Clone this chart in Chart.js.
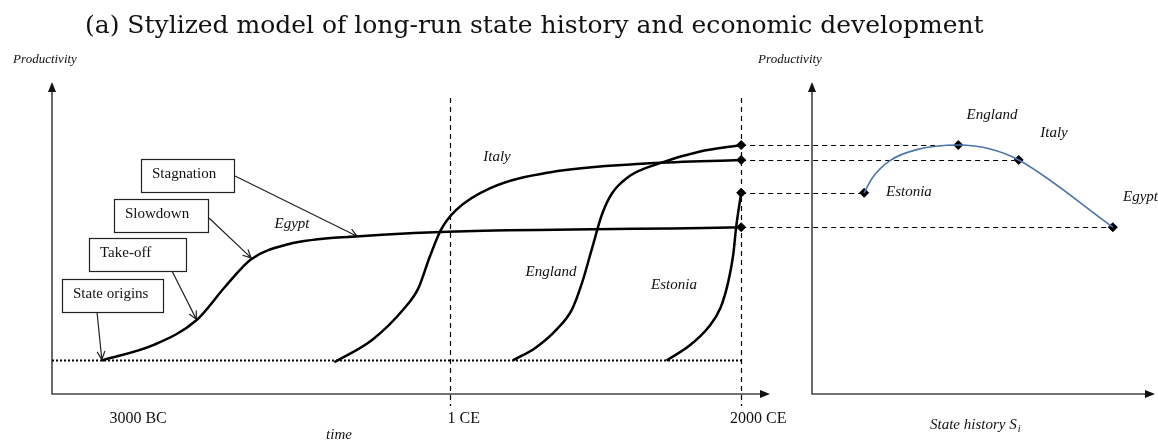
<!DOCTYPE html>
<html>
<head>
<meta charset="utf-8">
<script src="https://cdn.jsdelivr.net/npm/chart.js@4.4.0/dist/chart.umd.min.js"></script>
<style>
  html, body { margin: 0; padding: 0; background: #fff; }
  #wrap { width: 1158px; height: 440px; position: relative; }
</style>
</head>
<body>
<div id="wrap"><canvas id="stateChart"></canvas></div>
<script>
// Left panel: time (arbitrary units 0-100) vs productivity (0-100)
const egyptT = [6.3, 13.6, 19.6, 23.7, 27.3, 32.5, 41.5, 96.2];
const egyptP = [9.6, 14.7, 22.8, 34.0, 42.9, 47.8, 50.3, 53.4];

const italyT = [39.0, 44.3, 48.9, 50.8, 52.4, 54.0, 56.1, 61.0, 69.4, 83.3, 96.2];
const italyP = [9.0, 16.3, 26.9, 33.3, 43.6, 52.6, 59.0, 66.3, 71.5, 74.4, 75.5];

const englandT = [64.1, 67.3, 70.3, 72.4, 73.8, 75.2, 76.6, 78.0, 80.5, 84.7, 90.3, 96.2];
const englandP = [9.6, 13.8, 19.9, 26.3, 34.9, 46.2, 57.4, 64.4, 70.2, 74.4, 78.2, 80.4];

const estoniaT = [85.7, 88.9, 91.6, 93.3, 94.4, 95.1, 95.5, 96.2];
const estoniaP = [9.6, 14.4, 20.5, 26.9, 35.6, 44.6, 53.5, 64.7];

// Productivity reached by 2000 CE (dots on both panels)
const countries = ['England', 'Italy', 'Estonia', 'Egypt'];
const endP = [80.4, 75.5, 64.7, 53.4];

// Right panel: state history (0-100) vs productivity, same country order
const stateHistory = [43.7, 61.5, 16.0, 89.2];
const curveS = [16.0, 18.4, 23.6, 31.5, 43.7, 52.8, 61.5, 89.2];
const curveP = [64.7, 69.6, 75.3, 78.9, 80.4, 79.2, 75.5, 53.4];

// Time axis labels and era lines
const tickLabels = ['3000 BC', '1 CE', '2000 CE'];
const tickT = [11.4, 57.2, 98.6];
const eraT = [55.2, 96.2];
const baseP = 9.6;

// Stages of the Egypt curve and where their arrows point
const stages = ['State origins', 'Take-off', 'Slowdown', 'Stagnation'];
const stageT = [6.3, 19.6, 27.3, 42.2];
const stageP = [9.9, 23.1, 43.3, 50.4];

// ---- layout (pixels) ----
const W = 1158, H = 440;
const frame = { lx0: 52, lx1: 770, rx0: 812, rx1: 1155, y0: 394, y1: 82 };
const boxes = [
    { x: 62, y: 279, w: 101, h: 33, ax: 97, ay: 312 },
    { x: 89, y: 238, w: 97, h: 33, ax: 172, ay: 271 },
    { x: 114, y: 199, w: 94, h: 33, ax: 209, ay: 218 },
    { x: 141, y: 159, w: 93, h: 33, ax: 235, ay: 176 }
];
const leftNames = [
    { t: 'Italy', x: 497, y: 157 },
    { t: 'Egypt', x: 292, y: 224 },
    { t: 'England', x: 551, y: 272 },
    { t: 'Estonia', x: 674, y: 285 }
];
const rightNames = [
    { t: 'England', x: 992, y: 115, a: 'center' },
    { t: 'Italy', x: 1054, y: 133, a: 'center' },
    { t: 'Estonia', x: 886, y: 192, a: 'left' },
    { t: 'Egypt', x: 1123, y: 197, a: 'left' }
];

function span(p0, p1, size) {
    const k = (p1 - p0) / 100;
    return { min: -p0 / k, max: (size - p0) / k };
}
const xSpan = span(frame.lx0, frame.lx1, W);
const sSpan = span(frame.rx0, frame.rx1, W);
const ky = (frame.y0 - frame.y1) / 100;
const ySpan = { min: -(H - frame.y0) / ky, max: frame.y0 / ky };

const pts = (xs, ys) => xs.map((v, i) => ({ x: v, y: ys[i] }));

function arrowFill(ctx, x, y, dir) {
    ctx.beginPath();
    if (dir === 'up') {
        ctx.moveTo(x, y); ctx.lineTo(x - 4, y + 10); ctx.lineTo(x + 4, y + 10);
    } else {
        ctx.moveTo(x, y); ctx.lineTo(x - 10, y - 4); ctx.lineTo(x - 10, y + 4);
    }
    ctx.closePath();
    ctx.fill();
}

function arrowOpen(ctx, x0, y0, x1, y1) {
    const a = Math.atan2(y1 - y0, x1 - x0);
    ctx.beginPath();
    ctx.moveTo(x0, y0); ctx.lineTo(x1, y1);
    ctx.moveTo(x1 - 9 * Math.cos(a - 0.45), y1 - 9 * Math.sin(a - 0.45));
    ctx.lineTo(x1, y1);
    ctx.lineTo(x1 - 9 * Math.cos(a + 0.45), y1 - 9 * Math.sin(a + 0.45));
    ctx.stroke();
}

const diagram = {
    id: 'diagram',
    beforeDatasetsDraw(chart) {
        const { ctx, scales } = chart;
        const x = scales.x, s = scales.s, y = scales.y;
        ctx.save();

        // axes
        ctx.strokeStyle = '#444';
        ctx.fillStyle = '#111';
        ctx.lineWidth = 1.6;
        ctx.beginPath();
        ctx.moveTo(frame.lx0, frame.y1 + 6); ctx.lineTo(frame.lx0, frame.y0); ctx.lineTo(frame.lx1 - 6, frame.y0);
        ctx.moveTo(frame.rx0, frame.y1 + 6); ctx.lineTo(frame.rx0, frame.y0); ctx.lineTo(frame.rx1 - 6, frame.y0);
        ctx.stroke();
        arrowFill(ctx, frame.lx0, frame.y1, 'up');
        arrowFill(ctx, frame.lx1, frame.y0, 'right');
        arrowFill(ctx, frame.rx0, frame.y1, 'up');
        arrowFill(ctx, frame.rx1, frame.y0, 'right');

        // dotted subsistence line
        ctx.strokeStyle = '#000';
        ctx.lineWidth = 2;
        ctx.setLineDash([2, 2]);
        ctx.beginPath();
        ctx.moveTo(frame.lx0, y.getPixelForValue(baseP));
        ctx.lineTo(x.getPixelForValue(eraT[1]) + 2, y.getPixelForValue(baseP));
        ctx.stroke();

        // era lines
        ctx.lineWidth = 1.2;
        ctx.setLineDash([5, 4]);
        eraT.forEach(t => {
            const px = Math.round(x.getPixelForValue(t)) + 0.5;
            ctx.beginPath();
            ctx.moveTo(px, 98); ctx.lineTo(px, 406);
            ctx.stroke();
        });

        // connectors from 2000 CE to state-history panel
        endP.forEach((p, i) => {
            const py = Math.round(y.getPixelForValue(p)) + 0.5;
            ctx.beginPath();
            ctx.moveTo(x.getPixelForValue(eraT[1]), py);
            ctx.lineTo(s.getPixelForValue(stateHistory[i]), py);
            ctx.stroke();
        });
        ctx.setLineDash([]);

        // stage boxes
        ctx.lineWidth = 1.2;
        ctx.strokeStyle = '#222';
        ctx.font = '15px "Liberation Serif"';
        ctx.fillStyle = '#111';
        ctx.textBaseline = 'middle';
        ctx.textAlign = 'left';
        boxes.forEach((b, i) => {
            ctx.strokeRect(b.x + 0.5, b.y + 0.5, b.w, b.h);
            ctx.fillText(stages[i], b.x + 11, b.y + 15);
            arrowOpen(ctx, b.ax, b.ay, x.getPixelForValue(stageT[i]), y.getPixelForValue(stageP[i]));
        });
        ctx.restore();
    },
    afterDraw(chart) {
        const { ctx, scales } = chart;
        const x = scales.x;
        ctx.save();
        ctx.fillStyle = '#111';
        ctx.textBaseline = 'alphabetic';

        // title
        ctx.textAlign = 'left';
        ctx.font = '25px "DejaVu Serif"';
        ctx.fillText('(a) Stylized model of long-run state history and economic development', 85, 33);

        // tick labels
        ctx.textAlign = 'center';
        ctx.textBaseline = 'middle';
        ctx.font = '16px "Liberation Serif"';
        tickLabels.forEach((l, i) => ctx.fillText(l, x.getPixelForValue(tickT[i]), 419));

        // axis titles
        ctx.font = 'italic 13px "Liberation Serif"';
        ctx.fillText('Productivity', 45, 60);
        ctx.fillText('Productivity', 790, 60);
        ctx.font = 'italic 15px "Liberation Serif"';
        ctx.fillText('time', 339, 435);
        ctx.textAlign = 'left';
        ctx.fillText('State history S', 930, 425);
        const w = ctx.measureText('State history S').width;
        ctx.font = 'italic 10px "Liberation Serif"';
        ctx.fillText('i', 930 + w + 1, 429);

        // country names
        ctx.font = 'italic 15px "Liberation Serif"';
        ctx.textAlign = 'center';
        leftNames.forEach(n => ctx.fillText(n.t, n.x, n.y));
        rightNames.forEach(n => { ctx.textAlign = n.a; ctx.fillText(n.t, n.x, n.y); });
        ctx.restore();
    }
};

const lineStyle = {
    type: 'line',
    xAxisID: 'x',
    borderColor: '#000',
    borderWidth: 2.5,
    pointRadius: 0,
    fill: false,
    cubicInterpolationMode: 'monotone'
};

new Chart(document.getElementById('stateChart'), {
    data: {
        datasets: [
            { ...lineStyle, label: 'Egypt', data: pts(egyptT, egyptP) },
            { ...lineStyle, label: 'Italy', data: pts(italyT, italyP) },
            { ...lineStyle, label: 'England', data: pts(englandT, englandP) },
            { ...lineStyle, label: 'Estonia', data: pts(estoniaT, estoniaP) },
            {
                type: 'line', label: 'State history', xAxisID: 's',
                data: pts(curveS, curveP),
                borderColor: '#4a76ad', borderWidth: 1.6, pointRadius: 0,
                cubicInterpolationMode: 'monotone'
            },
            {
                type: 'scatter', label: '2000 CE', xAxisID: 'x',
                data: endP.map(p => ({ x: eraT[1], y: p })),
                pointStyle: 'rectRot', pointRadius: 4.5, backgroundColor: '#000', borderColor: '#000'
            },
            {
                type: 'scatter', label: 'States', xAxisID: 's',
                data: pts(stateHistory, endP),
                pointStyle: 'rectRot', pointRadius: 4.5, backgroundColor: '#000', borderColor: '#000'
            }
        ]
    },
    options: {
        responsive: true,
        maintainAspectRatio: false,
        animation: false,
        layout: { padding: 0 },
        plugins: { legend: { display: false }, tooltip: { enabled: false } },
        scales: {
            x: { type: 'linear', display: false, min: xSpan.min, max: xSpan.max },
            s: { type: 'linear', display: false, min: sSpan.min, max: sSpan.max },
            y: { type: 'linear', display: false, min: ySpan.min, max: ySpan.max }
        }
    },
    plugins: [diagram]
});
</script>
</body>
</html>
